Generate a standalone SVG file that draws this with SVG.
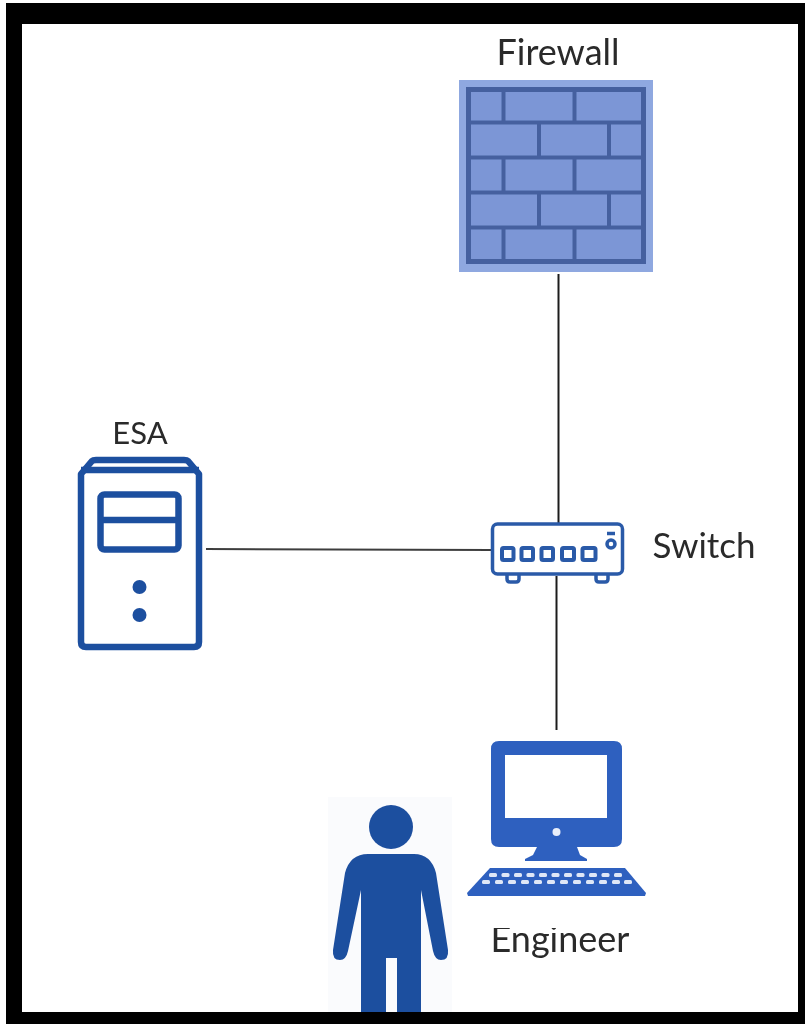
<svg xmlns="http://www.w3.org/2000/svg" width="805" height="1024" viewBox="0 0 805 1024">
<defs><filter id="soft" x="0" y="0" width="100%" height="100%"><feGaussianBlur stdDeviation="0.6"/></filter></defs>
<style>
.lbl{font-family:"Lato","Open Sans","Liberation Sans",sans-serif;font-size:36px;fill:#2a2a2a;text-anchor:middle}
.conn{stroke:#1c1c1c;stroke-width:2;fill:none}
.fw{stroke:#44609f;stroke-width:4;fill:none}
.srv{stroke:#1f4f9f;fill:none;stroke-width:6.500}
.sw{stroke:#2a5aa8;fill:none;stroke-width:3.500}
.key{fill:#dfe7f7}
</style>
<rect width="805" height="1024" fill="#fff"/>
<g filter="url(#soft)">
<rect id="frame" x="6" y="3" width="799" height="1021" fill="#000"/>
<rect x="22" y="24" width="776" height="988" fill="#fff"/>
<g id="connectors">
<line class="conn" x1="558.500" y1="274" x2="558.500" y2="523"/>
<line class="conn" x1="206" y1="549" x2="491" y2="550" stroke-opacity="0.85"/>
<line class="conn" x1="556.500" y1="576" x2="556.500" y2="730"/>
</g>
<g id="firewall">
<text class="lbl" x="558" y="65">Firewall</text>
<rect x="459" y="80" width="194" height="192" fill="#8fa8e0"/>
<rect x="468" y="89" width="177" height="174" fill="#7c96d6"/>
<rect x="468.500" y="89.500" width="175" height="172" fill="none" stroke="#44609f" stroke-width="5"/>
<path class="fw" d="M468 122.500H645M468 157.500H645M468 192.500H645M468 227.500H645M503.500 89V122.500M574.500 89V122.500M539 122.500V157.500M609 122.500V157.500M503.500 157.500V192.500M574.500 157.500V192.500M539 192.500V227.500M609 192.500V227.500M503.500 227.500V263M574.500 227.500V263"/>
</g>
<g id="esa">
<text class="lbl" x="140" y="444" style="font-size:31px">ESA</text>
<path class="srv" stroke-linejoin="round" d="M81 474L92 461Q93 460 96 460H184Q187 460 188 461L199 474V642Q199 647 194 647H86Q81 647 81 642Z"/>
<line class="srv" x1="81" y1="470" x2="199" y2="470"/>
<rect class="srv" x="100.500" y="494.500" width="78" height="55" rx="4"/>
<line class="srv" x1="100" y1="520" x2="179" y2="520"/>
<circle cx="139.500" cy="587" r="7" fill="#1f4f9f"/>
<circle cx="139.500" cy="615" r="7" fill="#1f4f9f"/>
</g>
<g id="switch">
<rect class="sw" x="492.500" y="524" width="130" height="50" rx="5"/>
<g class="sw">
<g stroke-width="4">
<rect x="502" y="548" width="11.500" height="12" rx="1.500"/>
<rect x="521.500" y="548" width="11.500" height="12" rx="1.500"/>
<rect x="541.500" y="548" width="11.500" height="12" rx="1.500"/>
<rect x="562" y="548" width="12" height="12" rx="1.500"/>
<rect x="582.500" y="548" width="13" height="12" rx="1.500"/>
</g>
<circle cx="611" cy="544" r="4"/>
<line x1="607" y1="533.500" x2="615" y2="533.500"/>
<path d="M507 575V579Q507 582 510 582H516Q519 582 519 579V575M596 575V579Q596 582 599 582H605Q608 582 608 579V575"/>
</g>
<text class="lbl" x="704" y="558" style="font-size:35px">Switch</text>
</g>
<g id="person">
<rect x="328" y="797" width="124" height="215" fill="#fafbfd"/>
<circle cx="391" cy="827" r="22" fill="#1f4f9f"/>
<path fill="#1f4f9f" d="M368 854H414Q431 854 436 873L448 950Q449 960 441 960Q435 960 433 951L421 890V1012H397V958H386V1012H361V890L348 951Q346 960 340 960Q332 960 333 950L345 873Q350 854 368 854Z"/>
</g>
<g id="engineer">
<text class="lbl" x="560" y="952">Engineer</text>
<rect x="470" y="897" width="180" height="31" fill="#fff"/>
<path fill="#2f60bf" fill-rule="evenodd" d="M499 741H614Q622 741 622 749V839Q622 847 614 847H577L580 855L587 859V861H525V859L533 855L537 847H499Q491 847 491 839V749Q491 741 499 741ZM505 755V818H607V755Z"/>
<circle cx="556.500" cy="832" r="4" fill="#e8eefa"/>
<path fill="#2f60bf" d="M490 868H625L646 893L645 896H468L467 893Z"/>
<g class="key">
<rect x="489" y="873" width="8" height="4" rx="1.500"/><rect x="501.500" y="873" width="8" height="4" rx="1.500"/><rect x="514" y="873" width="8" height="4" rx="1.500"/><rect x="526.500" y="873" width="8" height="4" rx="1.500"/><rect x="539" y="873" width="8" height="4" rx="1.500"/><rect x="551.500" y="873" width="8" height="4" rx="1.500"/><rect x="564" y="873" width="8" height="4" rx="1.500"/><rect x="576.500" y="873" width="8" height="4" rx="1.500"/><rect x="589" y="873" width="8" height="4" rx="1.500"/><rect x="601.500" y="873" width="8" height="4" rx="1.500"/><rect x="614" y="873" width="8" height="4" rx="1.500"/>
<rect x="482" y="880" width="8" height="4" rx="1.500"/><rect x="495" y="880" width="8" height="4" rx="1.500"/><rect x="508" y="880" width="8" height="4" rx="1.500"/><rect x="521" y="880" width="8" height="4" rx="1.500"/><rect x="534" y="880" width="8" height="4" rx="1.500"/><rect x="547" y="880" width="8" height="4" rx="1.500"/><rect x="560" y="880" width="8" height="4" rx="1.500"/><rect x="573" y="880" width="8" height="4" rx="1.500"/><rect x="586" y="880" width="8" height="4" rx="1.500"/><rect x="599" y="880" width="8" height="4" rx="1.500"/><rect x="612" y="880" width="8" height="4" rx="1.500"/><rect x="624" y="880" width="8" height="4" rx="1.500"/>
</g>
</g>
</g>
</svg>
